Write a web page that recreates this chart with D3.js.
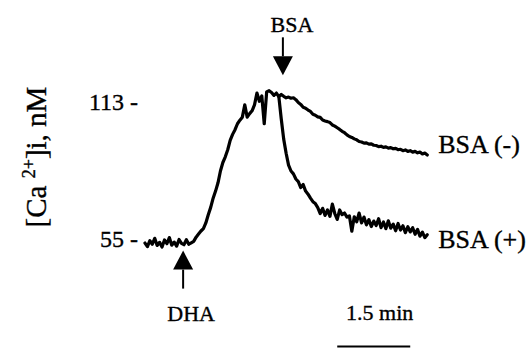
<!DOCTYPE html>
<html>
<head>
<meta charset="utf-8">
<script src="https://cdn.jsdelivr.net/npm/d3@7"></script>
<style>
  html, body { margin: 0; padding: 0; background: #fff; }
  svg text { font-family: "Liberation Serif", "DejaVu Serif", serif; fill: #000; stroke: #000; stroke-width: 0.35px; }
</style>
</head>
<body>
<div id="chart"></div>
<script>
// Time step between samples (s)
const step = 3;

// Shared trace before BSA addition, t = 0 .. 165 s (nM)
const sharedValues = [
  53.5, 52.0, 54.5, 53.0, 55.5, 52.5, 53.8, 51.8, 54.8, 53.2,
  55.8, 52.6, 53.9, 52.2, 55.0, 53.4, 52.8, 54.9, 53.0, 53.6,
  54.2, 56.0, 57.3, 58.6, 59.6, 62.0, 65.5, 68.6, 72.5, 75.5,
  79.0, 84.0, 87.6, 90.0, 93.0, 97.0, 99.5, 101.5, 104.0, 105.5,
  106.8, 112.0, 106.8, 108.3, 109.5, 112.0, 117.0, 113.5, 115.8, 104.0,
  117.5, 118.0, 117.2, 116.0, 117.0, 115.5
];

// Branches from t = 165 s to 348 s
const branchStart = 165;
const bsaMinusValues = [
  115.5, 116.4, 115.6, 115.0, 115.3, 114.8, 115.0, 114.2, 113.0, 112.2,
  111.0, 110.6, 109.8, 109.2, 108.0, 107.6, 106.9, 106.7, 105.6, 105.2,
  104.9, 104.5, 103.5, 103.0, 102.3, 101.6, 100.8, 100.2, 99.3, 98.6,
  98.2, 97.6, 97.2, 96.5, 96.3, 95.8, 95.9, 95.4, 95.5, 94.9,
  94.8, 94.3, 94.5, 94.0, 94.2, 93.7, 93.9, 93.4, 93.6, 93.0,
  93.2, 92.6, 92.9, 92.3, 92.6, 92.0, 92.3, 91.7, 92.0, 91.2,
  91.6, 90.8
];
const bsaPlusValues = [
  115.5, 106.0, 97.5, 91.5, 86.5, 84.0, 82.8, 80.6, 79.5, 77.0,
  78.3, 75.5, 74.2, 72.5, 71.0, 70.2, 68.5, 66.0, 68.2, 65.2,
  67.5, 64.8, 70.0, 66.0, 63.5, 67.5, 65.5, 66.2, 64.5, 65.0,
  58.5, 64.6, 62.5, 66.2, 62.0, 64.5, 61.2, 63.4, 60.5, 62.8,
  60.9, 63.8, 60.0, 62.4, 59.6, 62.9, 59.8, 61.5, 58.7, 61.8,
  59.0, 60.8, 57.9, 60.4, 58.2, 60.0, 57.2, 59.3, 56.4, 58.1,
  55.8, 57.0
];
const seriesLabels = ["BSA (-)", "BSA (+)"];

const yTicks = [55, 113];

// Additions: label, time (s), arrow tip (nM)
const eventLabels = ["DHA", "BSA"];
const eventTimes = [47, 170];
const eventTips = [50.3, 124.5];

const scaleBarStart = 237;   // s
const scaleBarLength = 90;   // s
const scaleBarLabel = "1.5 min";

// Layout
const width = 527, height = 348;

const svg = d3.select("#chart").append("svg")
  .attr("width", width)
  .attr("height", height);

const x = d3.scaleLinear().domain([0, 350]).range([145, 145 + 350 * 73 / 90]);
const y = d3.scaleLinear().domain([55, 113]).range([239.5, 102.5]);

const toPoints = (vals, t0) => vals.map((v, i) => ({ t: t0 + i * step, v: v }));
const shared = toPoints(sharedValues, 0);
const minus = toPoints(bsaMinusValues, branchStart);
const plus = toPoints(bsaPlusValues, branchStart);

const line = d3.line()
  .x(d => x(d.t))
  .y(d => y(d.v));

[shared.concat(minus.slice(1)), plus].forEach(pts => {
  svg.append("path")
    .datum(pts)
    .attr("d", line)
    .attr("fill", "none")
    .attr("stroke", "#000")
    .attr("stroke-width", 3.2)
    .attr("stroke-linejoin", "round")
    .attr("stroke-linecap", "round");
});

// Series labels next to line ends
const ends = [minus[minus.length - 1], plus[plus.length - 1]];
const labelDy = [-2, 13];
svg.selectAll(".series-label")
  .data(seriesLabels)
  .enter()
  .append("text")
  .attr("class", "series-label")
  .attr("x", (d, i) => x(ends[i].t) + 11)
  .attr("y", (d, i) => y(ends[i].v) + labelDy[i])
  .style("font-size", "26px")
  .text(d => d);

// Y tick labels ("113 -")
svg.selectAll(".tick-label")
  .data(yTicks)
  .enter()
  .append("text")
  .attr("class", "tick-label")
  .attr("x", 138)
  .attr("y", d => y(d))
  .attr("dy", "0.33em")
  .attr("text-anchor", "end")
  .style("font-size", "24px")
  .text(d => d + " -");

// Y axis title
const yTitle = svg.append("text")
  .attr("transform", "translate(46,157) rotate(-90)")
  .attr("text-anchor", "middle")
  .style("font-size", "29px");
yTitle.append("tspan").text("[Ca ");
yTitle.append("tspan").attr("dy", -11).style("font-size", "18px").text("2+");
yTitle.append("tspan").attr("dy", 11).text("]i, nM");

// Event arrows
eventLabels.forEach((lab, i) => {
  const ax = x(eventTimes[i]);
  const tipY = y(eventTips[i]);
  const up = i === 0; // DHA arrow points up from below
  const dir = up ? 1 : -1;
  const headLen = 19, headHalf = 10, stemLen = 19;
  svg.append("path")
    .attr("d", `M${ax},${tipY} L${ax - headHalf},${tipY + dir * headLen} L${ax + headHalf},${tipY + dir * headLen} Z`)
    .attr("fill", "#000");
  svg.append("line")
    .attr("x1", ax).attr("x2", ax)
    .attr("y1", tipY + dir * headLen)
    .attr("y2", tipY + dir * (headLen + stemLen))
    .attr("stroke", "#000")
    .attr("stroke-width", 2);
  svg.append("text")
    .attr("x", ax + (up ? 8 : 9))
    .attr("y", up ? tipY + 70 : tipY - 43)
    .attr("text-anchor", "middle")
    .style("font-size", "22px")
    .text(lab);
});

// Time scale bar
svg.append("line")
  .attr("x1", x(scaleBarStart))
  .attr("x2", x(scaleBarStart + scaleBarLength))
  .attr("y1", 346.5).attr("y2", 346.5)
  .attr("stroke", "#000")
  .attr("stroke-width", 2);
svg.append("text")
  .attr("x", x(scaleBarStart + scaleBarLength / 2) + 6)
  .attr("y", 320)
  .attr("text-anchor", "middle")
  .style("font-size", "22px")
  .text(scaleBarLabel);
</script>
</body>
</html>
